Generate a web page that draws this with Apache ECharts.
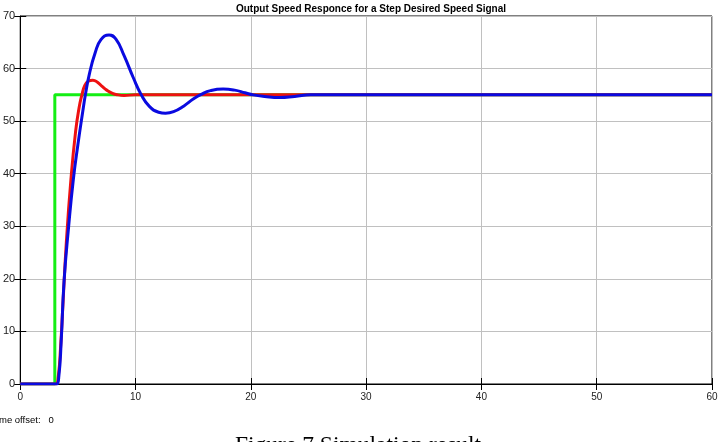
<!DOCTYPE html>
<html>
<head>
<meta charset="utf-8">
<title>Output Speed Responce</title>
<script src="https://cdn.jsdelivr.net/npm/echarts@6/dist/echarts.min.js"></script>
<style>
    html,body{margin:0;padding:0;background:#fff;}
    #main{width:722px;height:442px;}
</style>
</head>
<body>
<div id="main"></div>
<script>
//数据 (time, speed)
var xTicks = [0, 10, 20, 30, 40, 50, 60],
    yTicks = [0, 10, 20, 30, 40, 50, 60, 70];

var desiredSpeed = [
    [0, 0], [3, 0], [3, 55], [60, 55]
];

var speedA = [
    [0, 0], [2.8, 0], [3.1, 0], [3.3, 1.5], [3.5, 7], [3.7, 15], [4.0, 27], [4.4, 39], [4.8, 48],
    [5.1, 52.5], [5.35, 55], [5.6, 56.8], [5.9, 57.6], [6.3, 57.8], [6.7, 57.4],
    [7.1, 56.6], [7.5, 55.9], [8.0, 55.3], [8.5, 55.0], [9.0, 54.9], [10, 55],
    [12, 55], [15, 55], [60, 55]
];

var speedB = [
    [0, 0], [2.8, 0], [3.15, 0], [3.35, 1.5], [3.55, 8], [3.8, 19.5], [4.2, 30], [4.6, 38.8], [5.0, 45.5],
    [5.4, 51.5], [5.65, 55], [6.0, 59], [6.5, 63], [7.0, 65.5], [7.7, 66.4],
    [8.3, 65.6], [9.0, 62.5], [9.8, 58.3], [10.5, 55.0], [11.2, 52.8], [12.0, 51.7],
    [12.6, 51.5], [13.3, 51.8], [14.2, 52.9], [15.0, 54.2], [15.7, 55.1], [16.5, 55.8],
    [17.6, 56.1], [18.6, 55.9], [19.5, 55.4], [20.2, 55.0], [21.2, 54.7], [22.5, 54.5],
    [23.8, 54.7], [25.2, 55.0], [27, 55], [30, 55], [60, 55]
];

var font = "'Liberation Sans', Arial, sans-serif";


/********* 曲线图 *********/
function drawChart(){

    var myChart = echarts.init(document.getElementById("main"));

    var tickStyle = {show : true, inside : true, length : 6, lineStyle : {color : "#000"}};

    var option = {

        backgroundColor : "#fff",

        animation : false,

        title : {
            text : "Output Speed Responce for a Step Desired Speed Signal",
            left : 366,
            textAlign : "center",
            top : -1,
            textStyle : {fontFamily : font, fontSize : 10, fontWeight : "bold", color : "#000"}
        },

        grid : {
            left : 20, right : 10, top : 16, bottom : 58,
            show : true, borderColor : "#000", borderWidth : 1
        },

        xAxis : [
            {
                type : "value", min : xTicks[0], max : xTicks[xTicks.length - 1], interval : 10,
                axisLine : {show : true, lineStyle : {color : "#000"}},
                axisTick : tickStyle,
                axisLabel : {fontFamily : font, fontSize : 10, color : "#222", margin : 8},
                splitLine : {show : true, lineStyle : {color : "#c0c0c0", width : 1}}
            },
            {
                type : "value", position : "top", min : 0, max : 60, interval : 10,
                axisLine : {show : false},
                axisTick : tickStyle,
                axisLabel : {show : false},
                splitLine : {show : false}
            }
        ],

        yAxis : [
            {
                type : "value", min : yTicks[0], max : yTicks[yTicks.length - 1], interval : 10,
                axisLine : {show : true, lineStyle : {color : "#000"}},
                axisTick : tickStyle,
                axisLabel : {fontFamily : font, fontSize : 11, color : "#222", margin : 5},
                splitLine : {show : true, lineStyle : {color : "#c0c0c0", width : 1}}
            },
            {
                type : "value", position : "right", min : 0, max : 70, interval : 10,
                axisLine : {show : false},
                axisTick : tickStyle,
                axisLabel : {show : false},
                splitLine : {show : false}
            }
        ],

        series : [
            {
                name : "desired", type : "line", data : desiredSpeed,
                showSymbol : false, lineStyle : {color : "#14ee14", width : 3}
            },
            {
                name : "speedA", type : "line", data : speedA,
                showSymbol : false, smooth : 0.5,
                lineStyle : {color : "#ee1111", width : 3}
            },
            {
                name : "speedB", type : "line", data : speedB,
                showSymbol : false, smooth : 0.5,
                lineStyle : {color : "#0a0ae0", width : 3}
            }
        ],

        graphic : [
            {
                type : "text", left : -1, top : 415,
                style : {text : "me offset:   0", fontFamily : font, fontSize : 9.5, fill : "#000"}
            },
            {
                type : "text", left : 235, top : 434,
                style : {text : "Figure 7 Simulation result", fontFamily : "'Liberation Serif', 'Times New Roman', serif", fontSize : 23.5, fill : "#000"}
            }
        ]
    };

    myChart.setOption(option);
}

drawChart();
</script>
</body>
</html>
